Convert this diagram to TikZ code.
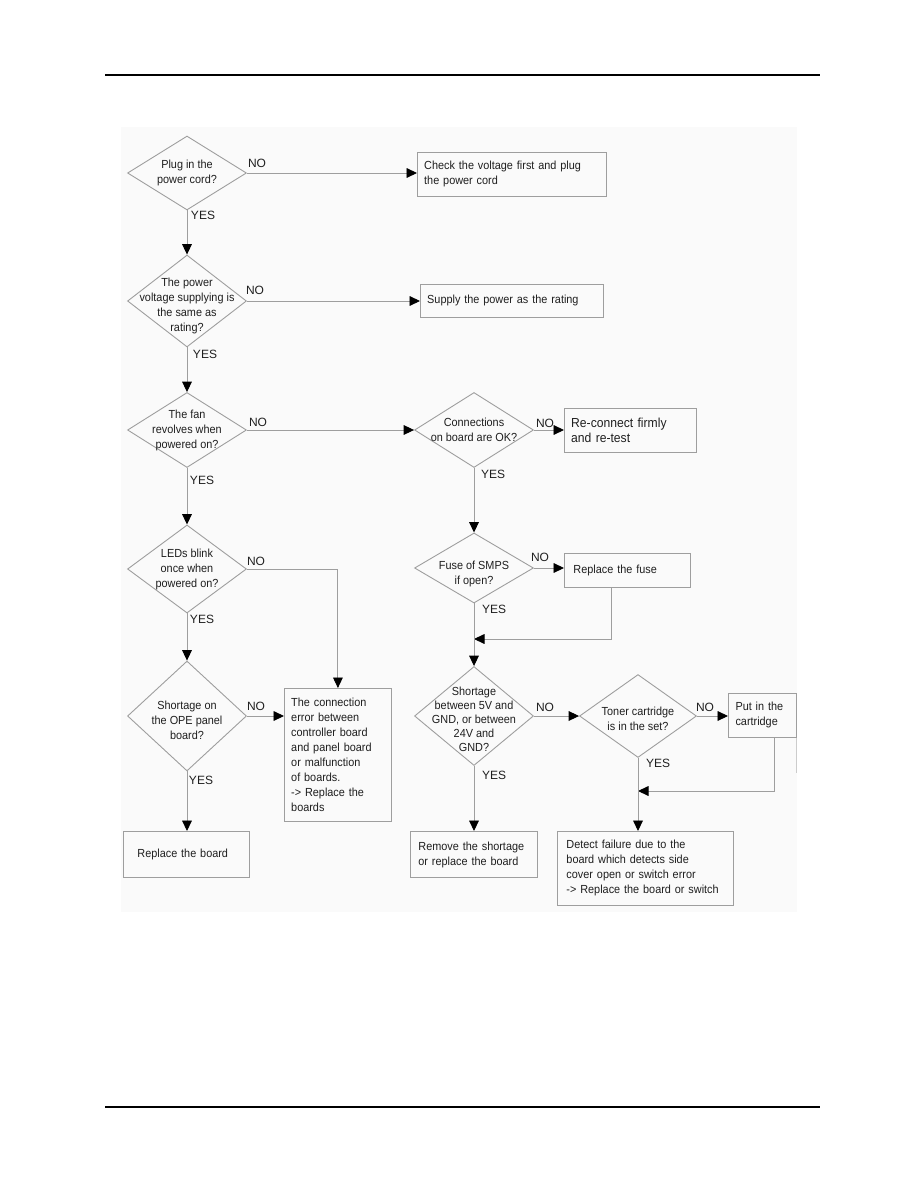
\documentclass[tikz,border=0pt]{standalone}
\usepackage{fontspec}
\setmainfont{Liberation Sans}
\newfontfamily\narrowfont[FakeStretch=0.93]{Liberation Sans}
\usetikzlibrary{shapes.geometric,arrows.meta,calc}
\definecolor{linegray}{gray}{0.62}
\definecolor{inkgray}{gray}{0.12}

\begin{document}
\begin{tikzpicture}[x=0.6667pt,y=-0.6667pt,
  dec/.style={diamond,draw=linegray,line width=0.6pt,inner sep=0pt,minimum width=79.3pt},
  qtext/.style={align=center,font=\narrowfont\fontsize{7.8}{10}\selectfont,text=inkgray},
  box/.style={rectangle,draw=linegray,line width=0.6pt,anchor=north west,align=left,
    inner xsep=4.5pt,inner ysep=0pt,font=\narrowfont\fontsize{7.8}{10}\selectfont,text=inkgray},
  yn/.style={font=\fontsize{8}{9}\selectfont,text=inkgray},
  flow/.style={draw=linegray,line width=0.6pt,-{Triangle[length=7pt,width=6.5pt,color=black]}},
  link/.style={draw=linegray,line width=0.6pt}]
\useasboundingbox (0,0) rectangle (918,1188);
% page rules
\draw[line width=1.4pt] (105,75) -- (820,75);
\draw[line width=0.7pt] (105,1107) -- (820,1107);
% figure area
\fill[black!2] (121,127) rectangle (797,912);
\draw[link,draw=black!20] (796,737) -- (796,773);

% questions
\node[dec,minimum height=49.3pt,label={[qtext]center:{Plug in the\\power cord?}}] (plug) at (187,173) {};
\node[dec,minimum height=61.3pt,label={[qtext,yshift=-3.5pt]center:{The power\\voltage supplying is\\the same as\\rating?}}] (volt) at (187,301) {};
\node[dec,minimum height=50pt,label={[qtext]center:{The fan\\revolves when\\powered on?}}] (fan) at (187,430) {};
\node[dec,minimum height=50pt,label={[qtext]center:{Connections\\on board are OK?}}] (conn) at (474,430) {};
\node[dec,minimum height=46.7pt,label={[qtext,yshift=-4pt]center:{Fuse of SMPS\\if open?}}] (fuse) at (474,568) {};
\node[dec,minimum height=58.7pt,label={[qtext]center:{LEDs blink\\once when\\powered on?}}] (led) at (187,569) {};
\node[dec,minimum height=73.3pt,label={[qtext,yshift=-2.7pt]center:{Shortage on\\the OPE panel\\board?}}] (ope) at (187,716) {};
\node[dec,minimum height=66pt,label={[qtext,yshift=-2pt,font=\narrowfont\fontsize{7.8}{9.3}\selectfont]center:{Shortage\\between 5V and\\GND, or between\\24V and\\GND?}}] (short) at (474,716) {};
\node[dec,minimum width=78pt,minimum height=55.3pt,label={[qtext,yshift=-2pt]center:{Toner cartridge\\is in the set?}}] (toner) at (638,716) {};

% actions
\node[box,text width=117pt,minimum height=29.3pt] (check) at (417,152) {Check the voltage first and plug\\the power cord};
\node[box,text width=113pt,minimum height=22pt] (supply) at (420,284) {Supply the power as the rating};
\node[box,text width=79pt,minimum height=29.3pt,font=\narrowfont\fontsize{8.7}{10.5}\selectfont] (recon) at (564,408) {Re-connect firmly\\and re-test};
\node[box,inner xsep=6pt,text width=72pt,minimum height=22.7pt] (rfuse) at (564,553) {Replace the fuse};
\node[box,text width=62.3pt,minimum height=88.7pt] (connerr) at (284,688) {The connection\\error between\\controller board\\and panel board\\or malfunction\\of boards.\\-> Replace the\\boards};
\node[box,inner xsep=9.3pt,text width=65.4pt,minimum height=30.7pt] (rboard) at (123,831) {Replace the board};
\node[box,inner xsep=5.3pt,text width=74pt,minimum height=30.7pt] (remove) at (410,831) {Remove the shortage\\or replace the board};
\node[box,inner xsep=6pt,text width=105.3pt,minimum height=49.3pt] (detect) at (557,831) {Detect failure due to the\\board which detects side\\cover open or switch error\\-> Replace the board or switch};
\node[box,inner xsep=4.7pt,text width=36pt,minimum height=29.3pt] (putin) at (728,693) {Put in the\\cartridge};

% joins
\coordinate (fusejoin) at (474,639);
\coordinate (tonerjoin) at (638,791);

% YES / NO
\node[yn] (plugno) at (257,163) {NO};
\node[yn] (plugyes) at (203,215) {YES};
\node[yn] (voltno) at (255,290) {NO};
\node[yn] (voltyes) at (205,354) {YES};
\node[yn] (fanno) at (258,422) {NO};
\node[yn] (fanyes) at (202,480) {YES};
\node[yn] (connno) at (545,423) {NO};
\node[yn] (connyes) at (493,474) {YES};
\node[yn] (fuseno) at (540,557) {NO};
\node[yn] (fuseyes) at (494,609) {YES};
\node[yn] (ledno) at (256,561) {NO};
\node[yn] (ledyes) at (202,619) {YES};
\node[yn] (openo) at (256,706) {NO};
\node[yn] (opeyes) at (201,780) {YES};
\node[yn] (shortno) at (545,707) {NO};
\node[yn] (shortyes) at (494,775) {YES};
\node[yn] (tonerno) at (705,707) {NO};
\node[yn] (toneryes) at (658,763) {YES};

% connectors
\draw[flow] (plug.east) -- (plug.east -| check.west);
\draw[flow] (plug.south) -- (volt.north);
\draw[flow] (volt.east) -- (volt.east -| supply.west);
\draw[flow] (volt.south) -- (fan.north);
\draw[flow] (fan.east) -- (conn.west);
\draw[flow] (conn.east) -- (conn.east -| recon.west);
\draw[flow] (conn.south) -- (fuse.north);
\draw[flow] (fuse.east) -- (fuse.east -| rfuse.west);
\draw[flow] ($(rfuse.south)+(-16,0)$) |- (fusejoin);
\draw[flow] (fuse.south) -- (short.north);
\draw[flow] (fan.south) -- (led.north);
\draw[flow] (led.east) -| (connerr.north);
\draw[flow] (led.south) -- (ope.north);
\draw[flow] (ope.east) -- (ope.east -| connerr.west);
\draw[flow] (ope.south) -- (ope.south |- rboard.north);
\draw[flow] (short.east) -- (toner.west);
\draw[flow] (short.south) -- (short.south |- remove.north);
\draw[flow] (toner.east) -- (toner.east -| putin.west);
\draw[flow] ($(putin.south)+(12,0)$) |- (tonerjoin);
\draw[flow] (toner.south) -- (toner.south |- detect.north);
\end{tikzpicture}
\end{document}
